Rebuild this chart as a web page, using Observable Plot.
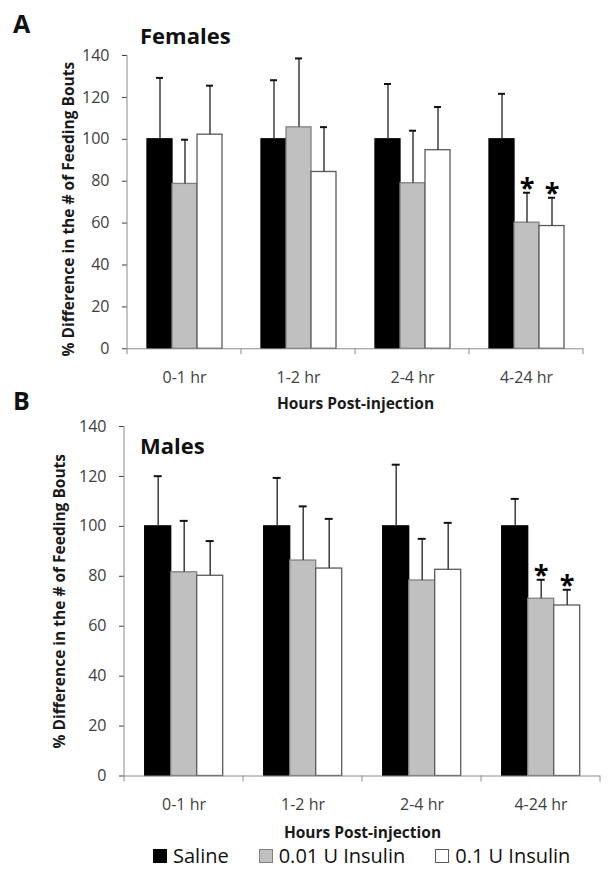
<!DOCTYPE html>
<html>
<head>
<meta charset="utf-8">
<script src="https://cdn.jsdelivr.net/npm/d3@7"></script>
<script src="https://cdn.jsdelivr.net/npm/@observablehq/plot@0.6"></script>
<style>
  body { margin: 0; background: #fff; font-family: "Open Sans", sans-serif; }
  #root { position: relative; width: 612px; height: 874px; overflow: hidden; background: #fff; }
  .abs { position: absolute; white-space: nowrap; line-height: 1; color: #111; }
  .panel { position: absolute; left: 0; }
  .letter { font-size: 25px; font-weight: bold; }
  .title { font-size: 22px; font-weight: bold; }
  svg [aria-label="y-axis label"] text, svg [aria-label="fx-axis label"] text { font-weight: bold; fill: #1a1a1a; }
  svg [aria-label="y-axis label"] text { font-size: 15.5px; }
  svg [aria-label="fx-axis label"] text { font-size: 15.5px; }
  svg [aria-label="y-axis tick"] { stroke: #8c8c8c; }
  #legend { position: absolute; left: 153px; top: 846px; display: flex; align-items: center; font-size: 20px; line-height: 1; color: #111; }
  #legend .item { display: flex; align-items: center; margin-right: 30px; }
  #legend .sw { width: 12px; height: 12px; border: 1px solid; margin-right: 6px; }
</style>
</head>
<body>
<div id="root"></div>
<script>
const categories = ["0-1 hr", "1-2 hr", "2-4 hr", "4-24 hr"];
const series = ["Saline", "0.01 U Insulin", "0.1 U Insulin"];
const yTicks = [0, 20, 40, 60, 80, 100, 120, 140];
const yLabel = "% Difference in the # of Feeding Bouts";
const xLabel = "Hours Post-injection";

// Panel A – Females
const femalesSaline = [100, 100, 100, 100];
const femalesLow = [78.7, 105.7, 79.0, 60.2];
const femalesHigh = [102.2, 84.4, 94.8, 58.6];
const femalesSalineSEM = [29.3, 28.2, 26.4, 21.7];
const femalesLowSEM = [21.1, 32.9, 25.1, 14.3];
const femalesHighSEM = [23.4, 21.4, 20.6, 13.5];
const femalesSalineSig = [false, false, false, false];
const femalesLowSig = [false, false, false, true];
const femalesHighSig = [false, false, false, true];

// Panel B – Males
const malesSaline = [100, 100, 100, 100];
const malesLow = [81.6, 86.3, 78.3, 71.0];
const malesHigh = [80.2, 83.1, 82.6, 68.3];
const malesSalineSEM = [20.1, 19.4, 24.7, 11.0];
const malesLowSEM = [20.6, 21.7, 16.7, 7.6];
const malesHighSEM = [13.9, 19.9, 18.8, 6.3];
const malesSalineSig = [false, false, false, false];
const malesLowSig = [false, false, false, true];
const malesHighSig = [false, false, false, true];

const fills = ["#000000", "#c0c0c0", "#ffffff"];
const strokes = ["#000000", "#808080", "#5a5a5a"];

function rows(vals, sems, sigs) {
  const out = [];
  categories.forEach((c, i) => series.forEach((s, j) => out.push({
    category: c, series: s, value: vals[j][i], sem: sems[j][i], sig: sigs[j][i] ? "*" : ""
  })));
  return out;
}

const femalesData = rows([femalesSaline, femalesLow, femalesHigh],
  [femalesSalineSEM, femalesLowSEM, femalesHighSEM],
  [femalesSalineSig, femalesLowSig, femalesHighSig]);
const malesData = rows([malesSaline, malesLow, malesHigh],
  [malesSalineSEM, malesLowSEM, malesHighSEM],
  [malesSalineSig, malesLowSig, malesHighSig]);

const root = document.getElementById("root");

function panel(data, o) {
  const top = d => d.value + d.sem;
  const chart = Plot.plot({
    width: 612,
    height: o.height,
    marginTop: o.marginTop,
    marginBottom: o.marginBottom,
    marginLeft: o.marginLeft,
    marginRight: o.marginRight,
    style: { fontFamily: "'Open Sans', sans-serif", fontSize: "16px", color: "#404040", background: "transparent", overflow: "visible" },
    fx: { domain: categories, padding: 0, axis: "bottom", tickSize: 0, tickPadding: 23,
          label: xLabel, labelAnchor: "center", labelOffset: o.fxLabelOffset },
    x: { domain: series, paddingInner: 0, paddingOuter: 0.75, axis: null },
    y: { domain: [0, 140], ticks: yTicks, tickSize: 5, tickPadding: 13,
         label: yLabel, labelAnchor: "center", labelOffset: o.yLabelOffset, labelArrow: "none" },
    marks: [
      ...series.map((s, j) => Plot.barY(data, {
        filter: d => d.series === s, fx: "category", x: "series", y: "value",
        fill: fills[j], stroke: strokes[j], strokeWidth: 1.3
      })),
      Plot.ruleX(data, { fx: "category", x: "series", y1: "value", y2: top, stroke: "#3c3c3c", strokeWidth: 1.5 }),
      Plot.tickY(data, { fx: "category", x: "series", y: top, stroke: "#111", strokeWidth: 2, insetLeft: 9, insetRight: 9 }),
      Plot.text(data, { filter: d => d.sig, fx: "category", x: "series", y: top, text: "sig",
        fontSize: 27, fontWeight: "bold", fill: "#000", lineAnchor: "middle", dy: -4 }),
      Plot.ruleY([0], { stroke: "#8c8c8c" })
    ]
  });
  // Excel-style boundary ticks and y-axis line, positioned through Plot's own scales
  const fx = chart.scale("fx"), y = chart.scale("y");
  const y0 = y.apply(0), yTop = y.apply(140);
  const left = fx.apply(categories[0]);
  const bounds = categories.map(c => fx.apply(c)).concat([fx.apply(categories[categories.length - 1]) + fx.bandwidth]);
  const g = d3.select(chart).append("g").attr("stroke", "#8c8c8c").attr("stroke-width", 1);
  g.append("line").attr("x1", left).attr("x2", left).attr("y1", yTop).attr("y2", y0);
  g.selectAll(null).data(bounds).join("line")
    .attr("x1", d => d).attr("x2", d => d).attr("y1", y0).attr("y2", y0 + 6);
  // nudge the y-axis title vertically as in the original figure
  const lab = chart.querySelector('[aria-label="y-axis label"]');
  if (lab && o.yLabelShift) {
    const wrap = document.createElementNS("http://www.w3.org/2000/svg", "g");
    lab.parentNode.insertBefore(wrap, lab);
    wrap.appendChild(lab);
    wrap.setAttribute("transform", `translate(0,${o.yLabelShift})`);
  }
  chart.classList.add("panel");
  chart.style.top = o.top + "px";
  root.appendChild(chart);
}

panel(femalesData, { top: 0, height: 415, marginTop: 55, marginBottom: 66.7, marginLeft: 126, marginRight: 28.5, yLabelOffset: 65, yLabelShift: 7, fxLabelOffset: 60 });
panel(malesData, { top: 415, height: 430, marginTop: 11, marginBottom: 69.5, marginLeft: 123.3, marginRight: 11, yLabelOffset: 71, yLabelShift: 0, fxLabelOffset: 62 });

function addText(txt, cls, left, top) {
  const d = document.createElement("div");
  d.className = "abs " + cls;
  d.style.left = left + "px";
  d.style.top = top + "px";
  d.textContent = txt;
  root.appendChild(d);
}
addText("A", "letter", 13, 10.6);
addText("B", "letter", 13, 387.6);
addText("Females", "title", 140, 24.2);
addText("Males", "title", 140, 433.5);

const legend = document.createElement("div");
legend.id = "legend";
series.forEach((s, j) => {
  const item = document.createElement("div");
  item.className = "item";
  const sw = document.createElement("div");
  sw.className = "sw";
  sw.style.background = fills[j];
  sw.style.borderColor = strokes[j];
  const t = document.createElement("span");
  t.textContent = s;
  item.appendChild(sw);
  item.appendChild(t);
  legend.appendChild(item);
});
root.appendChild(legend);
</script>
</body>
</html>
